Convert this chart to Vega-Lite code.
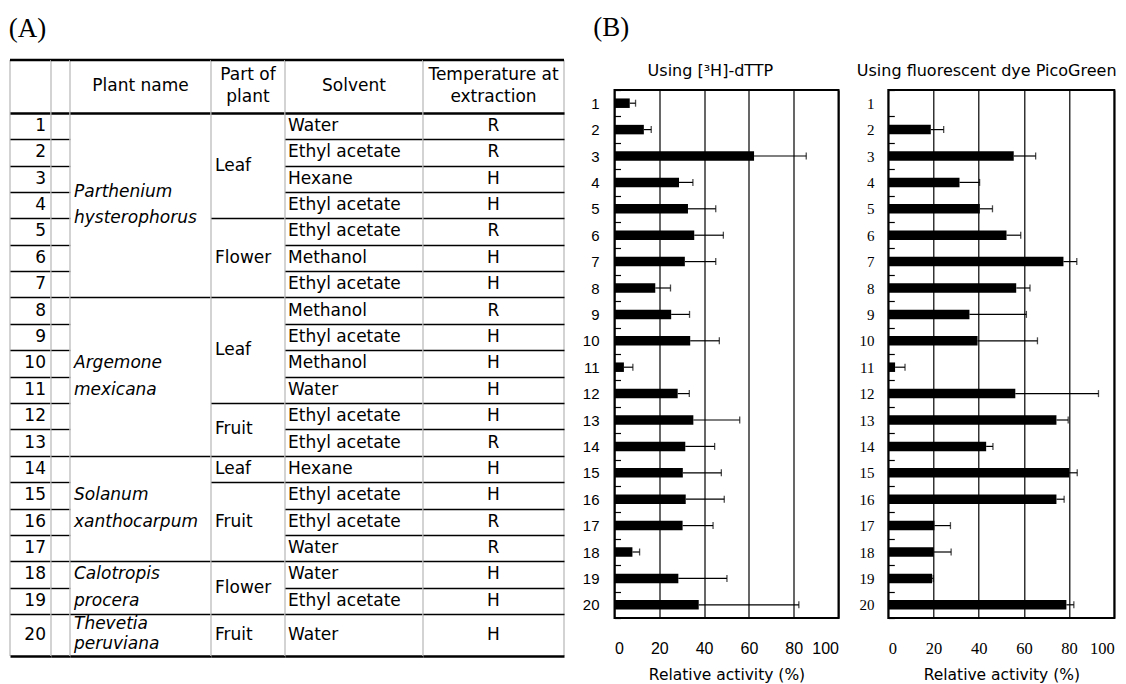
{
  "$schema": "https://vega.github.io/schema/vega-lite/v6.json",
  "padding": {"left": 8, "top": 14, "right": 0, "bottom": 0},
  "background": "white",
  "config": {"font": "DejaVu Sans"},
  "datasets": {
    "rows": [
      {"row": 1, "plant": "Parthenium hysterophorus", "part": "Leaf", "solvent": "Water", "temp": "R", "h3": 6.8, "h3up": 9.4, "pg": 0, "pgup": null},
      {"row": 2, "plant": "Parthenium hysterophorus", "part": "Leaf", "solvent": "Ethyl acetate", "temp": "R", "h3": 13.1, "h3up": 16.4, "pg": 18.8, "pgup": 24.5},
      {"row": 3, "plant": "Parthenium hysterophorus", "part": "Leaf", "solvent": "Hexane", "temp": "H", "h3": 62.3, "h3up": 85.6, "pg": 55.5, "pgup": 65.2},
      {"row": 4, "plant": "Parthenium hysterophorus", "part": "Leaf", "solvent": "Ethyl acetate", "temp": "H", "h3": 28.8, "h3up": 35.0, "pg": 31.5, "pgup": 40.4},
      {"row": 5, "plant": "Parthenium hysterophorus", "part": "Flower", "solvent": "Ethyl acetate", "temp": "R", "h3": 32.8, "h3up": 45.2, "pg": 40.5, "pgup": 46.1},
      {"row": 6, "plant": "Parthenium hysterophorus", "part": "Flower", "solvent": "Methanol", "temp": "H", "h3": 35.6, "h3up": 48.6, "pg": 52.3, "pgup": 58.6},
      {"row": 7, "plant": "Parthenium hysterophorus", "part": "Flower", "solvent": "Ethyl acetate", "temp": "H", "h3": 31.4, "h3up": 45.2, "pg": 77.5, "pgup": 83.4},
      {"row": 8, "plant": "Argemone mexicana", "part": "Leaf", "solvent": "Methanol", "temp": "R", "h3": 18.2, "h3up": 25.0, "pg": 56.6, "pgup": 62.7},
      {"row": 9, "plant": "Argemone mexicana", "part": "Leaf", "solvent": "Ethyl acetate", "temp": "H", "h3": 25.3, "h3up": 33.5, "pg": 35.9, "pgup": 61.1},
      {"row": 10, "plant": "Argemone mexicana", "part": "Leaf", "solvent": "Methanol", "temp": "H", "h3": 33.8, "h3up": 46.8, "pg": 39.5, "pgup": 66.0},
      {"row": 11, "plant": "Argemone mexicana", "part": "Leaf", "solvent": "Water", "temp": "H", "h3": 4.2, "h3up": 8.2, "pg": 3.0, "pgup": 7.4},
      {"row": 12, "plant": "Argemone mexicana", "part": "Fruit", "solvent": "Ethyl acetate", "temp": "H", "h3": 28.2, "h3up": 33.4, "pg": 56.2, "pgup": 93.0},
      {"row": 13, "plant": "Argemone mexicana", "part": "Fruit", "solvent": "Ethyl acetate", "temp": "R", "h3": 35.2, "h3up": 55.9, "pg": 74.4, "pgup": 79.6},
      {"row": 14, "plant": "Solanum xanthocarpum", "part": "Leaf", "solvent": "Hexane", "temp": "H", "h3": 31.6, "h3up": 44.7, "pg": 43.3, "pgup": 46.3},
      {"row": 15, "plant": "Solanum xanthocarpum", "part": "Fruit", "solvent": "Ethyl acetate", "temp": "H", "h3": 30.5, "h3up": 47.7, "pg": 80.0, "pgup": 83.6},
      {"row": 16, "plant": "Solanum xanthocarpum", "part": "Fruit", "solvent": "Ethyl acetate", "temp": "R", "h3": 31.8, "h3up": 49.0, "pg": 74.4, "pgup": 77.8},
      {"row": 17, "plant": "Solanum xanthocarpum", "part": "Fruit", "solvent": "Water", "temp": "R", "h3": 30.4, "h3up": 44.0, "pg": 20.4, "pgup": 27.5},
      {"row": 18, "plant": "Calotropis procera", "part": "Flower", "solvent": "Water", "temp": "H", "h3": 8.0, "h3up": 11.2, "pg": 20.1, "pgup": 27.8},
      {"row": 19, "plant": "Calotropis procera", "part": "Flower", "solvent": "Ethyl acetate", "temp": "H", "h3": 28.5, "h3up": 50.2, "pg": 19.4, "pgup": 19.9},
      {"row": 20, "plant": "Thevetia peruviana", "part": "Fruit", "solvent": "Water", "temp": "H", "h3": 37.6, "h3up": 82.3, "pg": 78.8, "pgup": 82.1}
    ],
    "header": [
      {"col": "plant", "label": "Plant name"},
      {"col": "part", "label": "Part of\nplant"},
      {"col": "solvent", "label": "Solvent"},
      {"col": "temp", "label": "Temperature at\nextraction"}
    ]
  },
  "spacing": 14.5,
  "hconcat": [
    {
      "title": {"text": "(A)", "font": "Liberation Serif", "fontSize": 27, "fontWeight": "normal", "anchor": "start", "color": "black", "offset": 16},
      "bounds": "flush",
      "spacing": 0,
      "hconcat": [
        {
          "width": 41, "height": 566,
          "view": {"stroke": null},
          "layer": [
            {
              "data": {"values": [{}]},
              "mark": {"type": "rule", "color": "#c4c4c4", "strokeWidth": 1.5},
              "encoding": {
                "x": {"datum": 0, "type": "quantitative", "scale": {"domain": [0, 1]}, "axis": null},
                "y": {"datum": -1.5, "type": "quantitative", "scale": {"domain": [-0.363, 21.09], "reverse": true, "nice": false, "zero": false},
                      "axis": {"values": [0.5,1.5,2.5,3.5,4.5,5.5,6.5,7.5,8.5,9.5,10.5,11.5,12.5,13.5,14.5,15.5,16.5,17.5,18.5,19.5,21.09], "grid": true, "gridColor": "black", "gridWidth": {"condition": {"test": "datum.value < 1 || datum.value > 21", "value": 2.5}, "value": 1.4}, "labels": false, "ticks": false, "domain": false, "title": null, "zindex": 1}},
                "y2": {"datum": 21.09}
              }
            },
            {
              "data": {"values": [{}]},
              "mark": {"type": "rule", "color": "black", "strokeWidth": 2.5},
              "encoding": {
                "y": {"datum": -1.5, "type": "quantitative", "scale": {"domain": [-0.363, 21.09], "reverse": true, "nice": false, "zero": false},
                      "axis": {"values": [0.5,1.5,2.5,3.5,4.5,5.5,6.5,7.5,8.5,9.5,10.5,11.5,12.5,13.5,14.5,15.5,16.5,17.5,18.5,19.5,21.09], "grid": true, "gridColor": "black", "gridWidth": {"condition": {"test": "datum.value < 1 || datum.value > 21", "value": 2.5}, "value": 1.4}, "labels": false, "ticks": false, "domain": false, "title": null, "zindex": 1}}
              }
            },
            {
              "data": {"name": "rows"},
              "transform": [{"joinaggregate": [{"op": "count", "as": "pn"}], "groupby": ["plant"]}, {"filter": "datum.pn > 1"}],
              "mark": {"type": "text", "align": "right", "baseline": "middle", "dx": -5, "fontSize": 17, "color": "black"},
              "encoding": {
                "x": {"datum": 1, "type": "quantitative", "scale": {"domain": [0, 1]}, "axis": null},
                "y": {"field": "row", "type": "quantitative", "scale": {"domain": [-0.363, 21.09], "reverse": true, "nice": false, "zero": false},
                      "axis": {"values": [0.5,1.5,2.5,3.5,4.5,5.5,6.5,7.5,8.5,9.5,10.5,11.5,12.5,13.5,14.5,15.5,16.5,17.5,18.5,19.5,21.09], "grid": true, "gridColor": "black", "gridWidth": {"condition": {"test": "datum.value < 1 || datum.value > 21", "value": 2.5}, "value": 1.4}, "labels": false, "ticks": false, "domain": false, "title": null, "zindex": 1}},
                "text": {"field": "row", "type": "nominal"}
              }
            },
            {
              "data": {"name": "rows"},
              "transform": [{"joinaggregate": [{"op": "count", "as": "pn"}], "groupby": ["plant"]}, {"filter": "datum.pn == 1"}],
              "mark": {"type": "text", "align": "right", "baseline": "middle", "dx": -5, "dy": 8, "fontSize": 17, "color": "black"},
              "encoding": {
                "x": {"datum": 1, "type": "quantitative", "scale": {"domain": [0, 1]}, "axis": null},
                "y": {"field": "row", "type": "quantitative", "scale": {"domain": [-0.363, 21.09], "reverse": true, "nice": false, "zero": false},
                      "axis": {"values": [0.5,1.5,2.5,3.5,4.5,5.5,6.5,7.5,8.5,9.5,10.5,11.5,12.5,13.5,14.5,15.5,16.5,17.5,18.5,19.5,21.09], "grid": true, "gridColor": "black", "gridWidth": {"condition": {"test": "datum.value < 1 || datum.value > 21", "value": 2.5}, "value": 1.4}, "labels": false, "ticks": false, "domain": false, "title": null, "zindex": 1}},
                "text": {"field": "row", "type": "nominal"}
              }
            }
          ]
        },
        {
          "width": 19, "height": 566,
          "view": {"stroke": null},
          "layer": [
            {
              "data": {"values": [{}]},
              "mark": {"type": "rule", "color": "#c4c4c4", "strokeWidth": 1.5},
              "encoding": {
                "x": {"datum": 0, "type": "quantitative", "scale": {"domain": [0, 1]}, "axis": null},
                "y": {"datum": -1.5, "type": "quantitative", "scale": {"domain": [-0.363, 21.09], "reverse": true, "nice": false, "zero": false},
                      "axis": {"values": [0.5,1.5,2.5,3.5,4.5,5.5,6.5,7.5,8.5,9.5,10.5,11.5,12.5,13.5,14.5,15.5,16.5,17.5,18.5,19.5,21.09], "grid": true, "gridColor": "black", "gridWidth": {"condition": {"test": "datum.value < 1 || datum.value > 21", "value": 2.5}, "value": 1.4}, "labels": false, "ticks": false, "domain": false, "title": null, "zindex": 1}},
                "y2": {"datum": 21.09}
              }
            },
            {
              "data": {"values": [{}]},
              "mark": {"type": "rule", "color": "black", "strokeWidth": 2.5},
              "encoding": {
                "y": {"datum": -1.5, "type": "quantitative", "scale": {"domain": [-0.363, 21.09], "reverse": true, "nice": false, "zero": false},
                      "axis": {"values": [0.5,1.5,2.5,3.5,4.5,5.5,6.5,7.5,8.5,9.5,10.5,11.5,12.5,13.5,14.5,15.5,16.5,17.5,18.5,19.5,21.09], "grid": true, "gridColor": "black", "gridWidth": {"condition": {"test": "datum.value < 1 || datum.value > 21", "value": 2.5}, "value": 1.4}, "labels": false, "ticks": false, "domain": false, "title": null, "zindex": 1}}
              }
            }
          ]
        },
        {
          "width": 141, "height": 566,
          "view": {"stroke": null},
          "layer": [
            {
              "data": {"values": [{}]},
              "mark": {"type": "rule", "color": "#c4c4c4", "strokeWidth": 1.5},
              "encoding": {
                "x": {"datum": 0, "type": "quantitative", "scale": {"domain": [0, 1]}, "axis": null},
                "y": {"datum": -1.5, "type": "quantitative", "scale": {"domain": [-0.363, 21.09], "reverse": true, "nice": false, "zero": false},
                      "axis": {"values": [0.5,7.5,13.5,17.5,19.5,21.09], "grid": true, "gridColor": "black", "gridWidth": {"condition": {"test": "datum.value < 1 || datum.value > 21", "value": 2.5}, "value": 1.4}, "labels": false, "ticks": false, "domain": false, "title": null, "zindex": 1}},
                "y2": {"datum": 21.09}
              }
            },
            {
              "data": {"values": [{}]},
              "mark": {"type": "rule", "color": "black", "strokeWidth": 2.5},
              "encoding": {
                "y": {"datum": -1.5, "type": "quantitative", "scale": {"domain": [-0.363, 21.09], "reverse": true, "nice": false, "zero": false},
                      "axis": {"values": [0.5,7.5,13.5,17.5,19.5,21.09], "grid": true, "gridColor": "black", "gridWidth": {"condition": {"test": "datum.value < 1 || datum.value > 21", "value": 2.5}, "value": 1.4}, "labels": false, "ticks": false, "domain": false, "title": null, "zindex": 1}}
              }
            },
            {
              "data": {"name": "rows"},
              "transform": [
                {"aggregate": [{"op": "mean", "field": "row", "as": "mid"}, {"op": "count", "as": "n"}], "groupby": ["plant"]},
                {"filter": "datum.n > 1"}
              ],
              "mark": {"type": "text", "align": "left", "baseline": "middle", "dx": 4, "dy": -13.2, "fontSize": 17, "fontStyle": "italic", "lineBreak": " ", "lineHeight": 26.4, "color": "black"},
              "encoding": {
                "x": {"datum": 0, "type": "quantitative", "scale": {"domain": [0, 1]}, "axis": null},
                "y": {"field": "mid", "type": "quantitative", "scale": {"domain": [-0.363, 21.09], "reverse": true, "nice": false, "zero": false},
                      "axis": {"values": [0.5,7.5,13.5,17.5,19.5,21.09], "grid": true, "gridColor": "black", "gridWidth": {"condition": {"test": "datum.value < 1 || datum.value > 21", "value": 2.5}, "value": 1.4}, "labels": false, "ticks": false, "domain": false, "title": null, "zindex": 1}},
                "text": {"field": "plant", "type": "nominal"}
              }
            },
            {
              "data": {"name": "rows"},
              "transform": [
                {"aggregate": [{"op": "mean", "field": "row", "as": "mid"}, {"op": "count", "as": "n"}], "groupby": ["plant"]},
                {"filter": "datum.n == 1"}
              ],
              "mark": {"type": "text", "align": "left", "baseline": "middle", "dx": 4, "dy": -3, "fontSize": 17, "fontStyle": "italic", "lineBreak": " ", "lineHeight": 20, "color": "black"},
              "encoding": {
                "x": {"datum": 0, "type": "quantitative", "scale": {"domain": [0, 1]}, "axis": null},
                "y": {"field": "mid", "type": "quantitative", "scale": {"domain": [-0.363, 21.09], "reverse": true, "nice": false, "zero": false},
                      "axis": {"values": [0.5,7.5,13.5,17.5,19.5,21.09], "grid": true, "gridColor": "black", "gridWidth": {"condition": {"test": "datum.value < 1 || datum.value > 21", "value": 2.5}, "value": 1.4}, "labels": false, "ticks": false, "domain": false, "title": null, "zindex": 1}},
                "text": {"field": "plant", "type": "nominal"}
              }
            },
            {
              "data": {"name": "header"},
              "transform": [{"filter": "datum.col == 'plant'"}],
              "mark": {"type": "text", "align": "center", "baseline": "middle", "fontSize": 17, "color": "black"},
              "encoding": {
                "x": {"datum": 0.5, "type": "quantitative", "scale": {"domain": [0, 1]}, "axis": null},
                "y": {"datum": -0.52, "type": "quantitative", "scale": {"domain": [-0.363, 21.09], "reverse": true, "nice": false, "zero": false},
                      "axis": {"values": [0.5,7.5,13.5,17.5,19.5,21.09], "grid": true, "gridColor": "black", "gridWidth": {"condition": {"test": "datum.value < 1 || datum.value > 21", "value": 2.5}, "value": 1.4}, "labels": false, "ticks": false, "domain": false, "title": null, "zindex": 1}},
                "text": {"field": "label", "type": "nominal"}
              }
            }
          ]
        },
        {
          "width": 74, "height": 566,
          "view": {"stroke": null},
          "layer": [
            {
              "data": {"values": [{}]},
              "mark": {"type": "rule", "color": "#c4c4c4", "strokeWidth": 1.5},
              "encoding": {
                "x": {"datum": 0, "type": "quantitative", "scale": {"domain": [0, 1]}, "axis": null},
                "y": {"datum": -1.5, "type": "quantitative", "scale": {"domain": [-0.363, 21.09], "reverse": true, "nice": false, "zero": false},
                      "axis": {"values": [0.5,4.5,7.5,11.5,13.5,14.5,17.5,19.5,21.09], "grid": true, "gridColor": "black", "gridWidth": {"condition": {"test": "datum.value < 1 || datum.value > 21", "value": 2.5}, "value": 1.4}, "labels": false, "ticks": false, "domain": false, "title": null, "zindex": 1}},
                "y2": {"datum": 21.09}
              }
            },
            {
              "data": {"values": [{}]},
              "mark": {"type": "rule", "color": "black", "strokeWidth": 2.5},
              "encoding": {
                "y": {"datum": -1.5, "type": "quantitative", "scale": {"domain": [-0.363, 21.09], "reverse": true, "nice": false, "zero": false},
                      "axis": {"values": [0.5,4.5,7.5,11.5,13.5,14.5,17.5,19.5,21.09], "grid": true, "gridColor": "black", "gridWidth": {"condition": {"test": "datum.value < 1 || datum.value > 21", "value": 2.5}, "value": 1.4}, "labels": false, "ticks": false, "domain": false, "title": null, "zindex": 1}}
              }
            },
            {
              "data": {"name": "rows"},
              "transform": [
                {"joinaggregate": [{"op": "count", "as": "pn"}], "groupby": ["plant"]},
                {"aggregate": [{"op": "mean", "field": "row", "as": "mid"}], "groupby": ["plant", "part", "pn"]},
                {"filter": "datum.pn > 1"}
              ],
              "mark": {"type": "text", "align": "left", "baseline": "middle", "dx": 4, "fontSize": 17, "color": "black"},
              "encoding": {
                "x": {"datum": 0, "type": "quantitative", "scale": {"domain": [0, 1]}, "axis": null},
                "y": {"field": "mid", "type": "quantitative", "scale": {"domain": [-0.363, 21.09], "reverse": true, "nice": false, "zero": false},
                      "axis": {"values": [0.5,4.5,7.5,11.5,13.5,14.5,17.5,19.5,21.09], "grid": true, "gridColor": "black", "gridWidth": {"condition": {"test": "datum.value < 1 || datum.value > 21", "value": 2.5}, "value": 1.4}, "labels": false, "ticks": false, "domain": false, "title": null, "zindex": 1}},
                "text": {"field": "part", "type": "nominal"}
              }
            },
            {
              "data": {"name": "rows"},
              "transform": [
                {"joinaggregate": [{"op": "count", "as": "pn"}], "groupby": ["plant"]},
                {"aggregate": [{"op": "mean", "field": "row", "as": "mid"}], "groupby": ["plant", "part", "pn"]},
                {"filter": "datum.pn == 1"}
              ],
              "mark": {"type": "text", "align": "left", "baseline": "middle", "dx": 4, "dy": 8, "fontSize": 17, "color": "black"},
              "encoding": {
                "x": {"datum": 0, "type": "quantitative", "scale": {"domain": [0, 1]}, "axis": null},
                "y": {"field": "mid", "type": "quantitative", "scale": {"domain": [-0.363, 21.09], "reverse": true, "nice": false, "zero": false},
                      "axis": {"values": [0.5,4.5,7.5,11.5,13.5,14.5,17.5,19.5,21.09], "grid": true, "gridColor": "black", "gridWidth": {"condition": {"test": "datum.value < 1 || datum.value > 21", "value": 2.5}, "value": 1.4}, "labels": false, "ticks": false, "domain": false, "title": null, "zindex": 1}},
                "text": {"field": "part", "type": "nominal"}
              }
            },
            {
              "data": {"name": "header"},
              "transform": [{"filter": "datum.col == 'part'"}],
              "mark": {"type": "text", "align": "center", "baseline": "middle", "dy": -11, "fontSize": 17, "lineBreak": "\n", "lineHeight": 22, "color": "black"},
              "encoding": {
                "x": {"datum": 0.5, "type": "quantitative", "scale": {"domain": [0, 1]}, "axis": null},
                "y": {"datum": -0.52, "type": "quantitative", "scale": {"domain": [-0.363, 21.09], "reverse": true, "nice": false, "zero": false},
                      "axis": {"values": [0.5,4.5,7.5,11.5,13.5,14.5,17.5,19.5,21.09], "grid": true, "gridColor": "black", "gridWidth": {"condition": {"test": "datum.value < 1 || datum.value > 21", "value": 2.5}, "value": 1.4}, "labels": false, "ticks": false, "domain": false, "title": null, "zindex": 1}},
                "text": {"field": "label", "type": "nominal"}
              }
            }
          ]
        },
        {
          "width": 138, "height": 566,
          "view": {"stroke": null},
          "layer": [
            {
              "data": {"values": [{}]},
              "mark": {"type": "rule", "color": "#c4c4c4", "strokeWidth": 1.5},
              "encoding": {
                "x": {"datum": 0, "type": "quantitative", "scale": {"domain": [0, 1]}, "axis": null},
                "y": {"datum": -1.5, "type": "quantitative", "scale": {"domain": [-0.363, 21.09], "reverse": true, "nice": false, "zero": false},
                      "axis": {"values": [0.5,1.5,2.5,3.5,4.5,5.5,6.5,7.5,8.5,9.5,10.5,11.5,12.5,13.5,14.5,15.5,16.5,17.5,18.5,19.5,21.09], "grid": true, "gridColor": "black", "gridWidth": {"condition": {"test": "datum.value < 1 || datum.value > 21", "value": 2.5}, "value": 1.4}, "labels": false, "ticks": false, "domain": false, "title": null, "zindex": 1}},
                "y2": {"datum": 21.09}
              }
            },
            {
              "data": {"values": [{}]},
              "mark": {"type": "rule", "color": "black", "strokeWidth": 2.5},
              "encoding": {
                "y": {"datum": -1.5, "type": "quantitative", "scale": {"domain": [-0.363, 21.09], "reverse": true, "nice": false, "zero": false},
                      "axis": {"values": [0.5,1.5,2.5,3.5,4.5,5.5,6.5,7.5,8.5,9.5,10.5,11.5,12.5,13.5,14.5,15.5,16.5,17.5,18.5,19.5,21.09], "grid": true, "gridColor": "black", "gridWidth": {"condition": {"test": "datum.value < 1 || datum.value > 21", "value": 2.5}, "value": 1.4}, "labels": false, "ticks": false, "domain": false, "title": null, "zindex": 1}}
              }
            },
            {
              "data": {"name": "rows"},
              "transform": [{"joinaggregate": [{"op": "count", "as": "pn"}], "groupby": ["plant"]}, {"filter": "datum.pn > 1"}],
              "mark": {"type": "text", "align": "left", "baseline": "middle", "dx": 3, "fontSize": 17, "color": "black"},
              "encoding": {
                "x": {"datum": 0, "type": "quantitative", "scale": {"domain": [0, 1]}, "axis": null},
                "y": {"field": "row", "type": "quantitative", "scale": {"domain": [-0.363, 21.09], "reverse": true, "nice": false, "zero": false},
                      "axis": {"values": [0.5,1.5,2.5,3.5,4.5,5.5,6.5,7.5,8.5,9.5,10.5,11.5,12.5,13.5,14.5,15.5,16.5,17.5,18.5,19.5,21.09], "grid": true, "gridColor": "black", "gridWidth": {"condition": {"test": "datum.value < 1 || datum.value > 21", "value": 2.5}, "value": 1.4}, "labels": false, "ticks": false, "domain": false, "title": null, "zindex": 1}},
                "text": {"field": "solvent", "type": "nominal"}
              }
            },
            {
              "data": {"name": "rows"},
              "transform": [{"joinaggregate": [{"op": "count", "as": "pn"}], "groupby": ["plant"]}, {"filter": "datum.pn == 1"}],
              "mark": {"type": "text", "align": "left", "baseline": "middle", "dx": 3, "dy": 8, "fontSize": 17, "color": "black"},
              "encoding": {
                "x": {"datum": 0, "type": "quantitative", "scale": {"domain": [0, 1]}, "axis": null},
                "y": {"field": "row", "type": "quantitative", "scale": {"domain": [-0.363, 21.09], "reverse": true, "nice": false, "zero": false},
                      "axis": {"values": [0.5,1.5,2.5,3.5,4.5,5.5,6.5,7.5,8.5,9.5,10.5,11.5,12.5,13.5,14.5,15.5,16.5,17.5,18.5,19.5,21.09], "grid": true, "gridColor": "black", "gridWidth": {"condition": {"test": "datum.value < 1 || datum.value > 21", "value": 2.5}, "value": 1.4}, "labels": false, "ticks": false, "domain": false, "title": null, "zindex": 1}},
                "text": {"field": "solvent", "type": "nominal"}
              }
            },
            {
              "data": {"name": "header"},
              "transform": [{"filter": "datum.col == 'solvent'"}],
              "mark": {"type": "text", "align": "center", "baseline": "middle", "fontSize": 17, "color": "black"},
              "encoding": {
                "x": {"datum": 0.5, "type": "quantitative", "scale": {"domain": [0, 1]}, "axis": null},
                "y": {"datum": -0.52, "type": "quantitative", "scale": {"domain": [-0.363, 21.09], "reverse": true, "nice": false, "zero": false},
                      "axis": {"values": [0.5,1.5,2.5,3.5,4.5,5.5,6.5,7.5,8.5,9.5,10.5,11.5,12.5,13.5,14.5,15.5,16.5,17.5,18.5,19.5,21.09], "grid": true, "gridColor": "black", "gridWidth": {"condition": {"test": "datum.value < 1 || datum.value > 21", "value": 2.5}, "value": 1.4}, "labels": false, "ticks": false, "domain": false, "title": null, "zindex": 1}},
                "text": {"field": "label", "type": "nominal"}
              }
            }
          ]
        },
        {
          "width": 141, "height": 566,
          "view": {"stroke": null},
          "layer": [
            {
              "data": {"values": [{}]},
              "mark": {"type": "rule", "color": "#c4c4c4", "strokeWidth": 1.5},
              "encoding": {
                "x": {"datum": 0, "type": "quantitative", "scale": {"domain": [0, 1]}, "axis": null},
                "y": {"datum": -1.5, "type": "quantitative", "scale": {"domain": [-0.363, 21.09], "reverse": true, "nice": false, "zero": false},
                      "axis": {"values": [0.5,1.5,2.5,3.5,4.5,5.5,6.5,7.5,8.5,9.5,10.5,11.5,12.5,13.5,14.5,15.5,16.5,17.5,18.5,19.5,21.09], "grid": true, "gridColor": "black", "gridWidth": {"condition": {"test": "datum.value < 1 || datum.value > 21", "value": 2.5}, "value": 1.4}, "labels": false, "ticks": false, "domain": false, "title": null, "zindex": 1}},
                "y2": {"datum": 21.09}
              }
            },
            {
              "data": {"values": [{}]},
              "mark": {"type": "rule", "color": "#c4c4c4", "strokeWidth": 1.5},
              "encoding": {
                "x": {"datum": 1, "type": "quantitative", "scale": {"domain": [0, 1]}, "axis": null},
                "y": {"datum": -1.5, "type": "quantitative", "scale": {"domain": [-0.363, 21.09], "reverse": true, "nice": false, "zero": false},
                      "axis": {"values": [0.5,1.5,2.5,3.5,4.5,5.5,6.5,7.5,8.5,9.5,10.5,11.5,12.5,13.5,14.5,15.5,16.5,17.5,18.5,19.5,21.09], "grid": true, "gridColor": "black", "gridWidth": {"condition": {"test": "datum.value < 1 || datum.value > 21", "value": 2.5}, "value": 1.4}, "labels": false, "ticks": false, "domain": false, "title": null, "zindex": 1}},
                "y2": {"datum": 21.09}
              }
            },
            {
              "data": {"values": [{}]},
              "mark": {"type": "rule", "color": "black", "strokeWidth": 2.5},
              "encoding": {
                "y": {"datum": -1.5, "type": "quantitative", "scale": {"domain": [-0.363, 21.09], "reverse": true, "nice": false, "zero": false},
                      "axis": {"values": [0.5,1.5,2.5,3.5,4.5,5.5,6.5,7.5,8.5,9.5,10.5,11.5,12.5,13.5,14.5,15.5,16.5,17.5,18.5,19.5,21.09], "grid": true, "gridColor": "black", "gridWidth": {"condition": {"test": "datum.value < 1 || datum.value > 21", "value": 2.5}, "value": 1.4}, "labels": false, "ticks": false, "domain": false, "title": null, "zindex": 1}}
              }
            },
            {
              "data": {"name": "rows"},
              "transform": [{"joinaggregate": [{"op": "count", "as": "pn"}], "groupby": ["plant"]}, {"filter": "datum.pn > 1"}],
              "mark": {"type": "text", "align": "center", "baseline": "middle", "fontSize": 17, "color": "black"},
              "encoding": {
                "x": {"datum": 0.5, "type": "quantitative", "scale": {"domain": [0, 1]}, "axis": null},
                "y": {"field": "row", "type": "quantitative", "scale": {"domain": [-0.363, 21.09], "reverse": true, "nice": false, "zero": false},
                      "axis": {"values": [0.5,1.5,2.5,3.5,4.5,5.5,6.5,7.5,8.5,9.5,10.5,11.5,12.5,13.5,14.5,15.5,16.5,17.5,18.5,19.5,21.09], "grid": true, "gridColor": "black", "gridWidth": {"condition": {"test": "datum.value < 1 || datum.value > 21", "value": 2.5}, "value": 1.4}, "labels": false, "ticks": false, "domain": false, "title": null, "zindex": 1}},
                "text": {"field": "temp", "type": "nominal"}
              }
            },
            {
              "data": {"name": "rows"},
              "transform": [{"joinaggregate": [{"op": "count", "as": "pn"}], "groupby": ["plant"]}, {"filter": "datum.pn == 1"}],
              "mark": {"type": "text", "align": "center", "baseline": "middle", "dy": 8, "fontSize": 17, "color": "black"},
              "encoding": {
                "x": {"datum": 0.5, "type": "quantitative", "scale": {"domain": [0, 1]}, "axis": null},
                "y": {"field": "row", "type": "quantitative", "scale": {"domain": [-0.363, 21.09], "reverse": true, "nice": false, "zero": false},
                      "axis": {"values": [0.5,1.5,2.5,3.5,4.5,5.5,6.5,7.5,8.5,9.5,10.5,11.5,12.5,13.5,14.5,15.5,16.5,17.5,18.5,19.5,21.09], "grid": true, "gridColor": "black", "gridWidth": {"condition": {"test": "datum.value < 1 || datum.value > 21", "value": 2.5}, "value": 1.4}, "labels": false, "ticks": false, "domain": false, "title": null, "zindex": 1}},
                "text": {"field": "temp", "type": "nominal"}
              }
            },
            {
              "data": {"name": "header"},
              "transform": [{"filter": "datum.col == 'temp'"}],
              "mark": {"type": "text", "align": "center", "baseline": "middle", "dy": -11, "fontSize": 17, "lineBreak": "\n", "lineHeight": 22, "color": "black"},
              "encoding": {
                "x": {"datum": 0.5, "type": "quantitative", "scale": {"domain": [0, 1]}, "axis": null},
                "y": {"datum": -0.52, "type": "quantitative", "scale": {"domain": [-0.363, 21.09], "reverse": true, "nice": false, "zero": false},
                      "axis": {"values": [0.5,1.5,2.5,3.5,4.5,5.5,6.5,7.5,8.5,9.5,10.5,11.5,12.5,13.5,14.5,15.5,16.5,17.5,18.5,19.5,21.09], "grid": true, "gridColor": "black", "gridWidth": {"condition": {"test": "datum.value < 1 || datum.value > 21", "value": 2.5}, "value": 1.4}, "labels": false, "ticks": false, "domain": false, "title": null, "zindex": 1}},
                "text": {"field": "label", "type": "nominal"}
              }
            }
          ]
        }
      ]
    },
    {
      "title": {"text": "(B)", "font": "Liberation Serif", "fontSize": 27, "fontWeight": "normal", "anchor": "start", "color": "black", "offset": 20, "dx": 12},
      "spacing": 15.8,
      "hconcat": [
        {
          "width": 224, "height": 528,
          "title": {"text": "Using [³H]-dTTP", "font": "DejaVu Sans", "fontSize": 16, "fontWeight": "normal", "color": "black", "anchor": "middle", "frame": "bounds", "offset": 4},
          "view": {"stroke": "black", "strokeWidth": 2},
          "data": {"name": "rows"},
          "encoding": {
            "y": {"field": "row", "type": "ordinal", "scale": {"domain": [1,2,3,4,5,6,7,8,9,10,11,12,13,14,15,16,17,18,19,20], "paddingInner": 0, "paddingOuter": 0},
                  "axis": {"title": null, "tickBand": "extent", "tickSize": -6, "tickColor": "black", "tickWidth": 1.2, "domain": false, "grid": false, "labelFont": "Liberation Sans", "labelFontSize": 15, "labelColor": "black", "labelPadding": 21.5}}
          },
          "layer": [
            {
              "mark": {"type": "bar", "color": "black", "height": {"band": 0.36}},
              "encoding": {
                "x": {"field": "h3", "type": "quantitative", "title": "Relative activity (%)", "scale": {"domain": [0, 100]},
                      "axis": {"values": [0,20,40,60,80,100], "grid": true, "gridColor": "black", "gridWidth": 1.2, "ticks": false, "domain": false, "labelFont": "Liberation Sans", "labelFontSize": 16, "labelColor": "black", "labelPadding": 22, "titleFont": "DejaVu Sans", "titleFontSize": 15.5, "titleFontWeight": "normal", "titleColor": "black", "titlePadding": 11}}
              }
            },
            {
              "transform": [{"filter": "datum.h3up != null"}],
              "mark": {"type": "rule", "color": "black", "strokeWidth": 1.2},
              "encoding": {
                "x": {"field": "h3", "type": "quantitative", "title": "Relative activity (%)"},
                "x2": {"field": "h3up"}
              }
            },
            {
              "transform": [{"filter": "datum.h3up != null"}],
              "mark": {"type": "tick", "color": "black", "thickness": 1.3, "size": 7},
              "encoding": {
                "x": {"field": "h3up", "type": "quantitative", "title": "Relative activity (%)"}
              }
            }
          ]
        },
        {
          "width": 226, "height": 528,
          "title": {"text": "Using fluorescent dye PicoGreen", "font": "DejaVu Sans", "fontSize": 16, "fontWeight": "normal", "color": "black", "anchor": "middle", "frame": "bounds", "offset": 4},
          "view": {"stroke": "black", "strokeWidth": 2},
          "data": {"name": "rows"},
          "encoding": {
            "y": {"field": "row", "type": "ordinal", "scale": {"domain": [1,2,3,4,5,6,7,8,9,10,11,12,13,14,15,16,17,18,19,20], "paddingInner": 0, "paddingOuter": 0},
                  "axis": {"title": null, "tickBand": "extent", "tickSize": -6, "tickColor": "black", "tickWidth": 1.2, "domain": false, "grid": false, "labelFont": "Liberation Serif", "labelFontSize": 15, "labelColor": "black", "labelPadding": 20.3}}
          },
          "layer": [
            {
              "mark": {"type": "bar", "color": "black", "height": {"band": 0.36}},
              "encoding": {
                "x": {"field": "pg", "type": "quantitative", "title": "Relative activity (%)", "scale": {"domain": [0, 100]},
                      "axis": {"values": [0,20,40,60,80,100], "grid": true, "gridColor": "black", "gridWidth": 1.2, "ticks": false, "domain": false, "labelFont": "Liberation Serif", "labelFontSize": 16.5, "labelColor": "black", "labelPadding": 22, "titleFont": "DejaVu Sans", "titleFontSize": 15.5, "titleFontWeight": "normal", "titleColor": "black", "titlePadding": 11}}
              }
            },
            {
              "transform": [{"filter": "datum.pgup != null"}],
              "mark": {"type": "rule", "color": "black", "strokeWidth": 1.2},
              "encoding": {
                "x": {"field": "pg", "type": "quantitative", "title": "Relative activity (%)"},
                "x2": {"field": "pgup"}
              }
            },
            {
              "transform": [{"filter": "datum.pgup != null"}],
              "mark": {"type": "tick", "color": "black", "thickness": 1.3, "size": 7},
              "encoding": {
                "x": {"field": "pgup", "type": "quantitative", "title": "Relative activity (%)"}
              }
            }
          ]
        }
      ]
    }
  ]
}
